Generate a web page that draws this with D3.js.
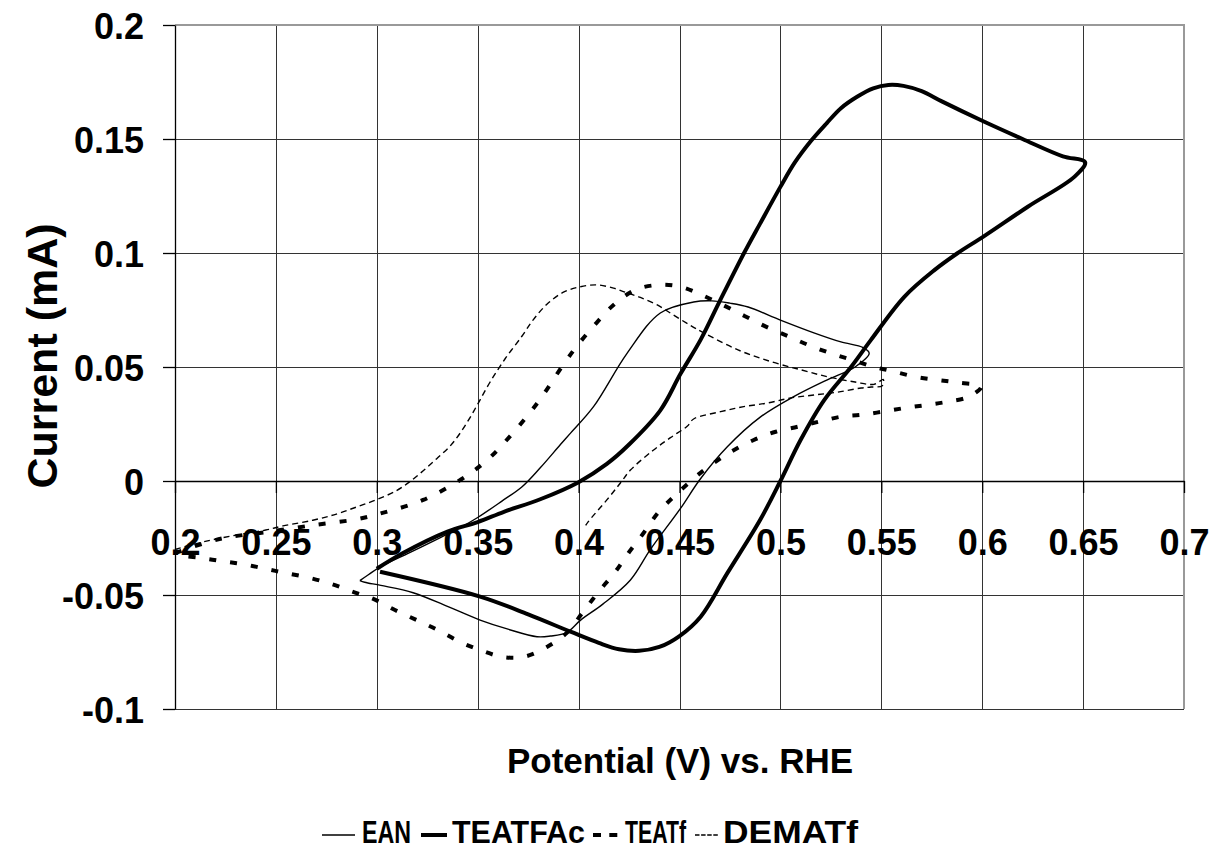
<!DOCTYPE html>
<html>
<head>
<meta charset="utf-8">
<script src="https://cdn.jsdelivr.net/npm/d3@7"></script>
<style>
  body { margin: 0; background: #fff; }
  svg text { font-family: 'Liberation Sans', Arial, sans-serif; font-weight: bold; fill: #000; }
</style>
</head>
<body>
<div class="chart"></div>
<script>
var seriesNames = ['EAN', 'TEATFAc', 'TEATf', 'DEMATf']
var xTicks = [0.2, 0.25, 0.3, 0.35, 0.4, 0.45, 0.5, 0.55, 0.6, 0.65, 0.7]
var yTicks = [-0.1, -0.05, 0, 0.05, 0.1, 0.15, 0.2]

// [potential V, current mA], in scan order
var ean = [
  [0.2916, -0.0437], [0.296, -0.041], [0.302, -0.0375], [0.315, -0.032], [0.330, -0.0255],
  [0.341, -0.0206], [0.350, -0.016], [0.362, -0.0088], [0.372, -0.0025], [0.381, 0.0058],
  [0.391, 0.016], [0.396, 0.021], [0.4074, 0.0326], [0.424, 0.056], [0.4405, 0.0737],
  [0.457, 0.0785], [0.466, 0.079], [0.475, 0.078], [0.484, 0.0763], [0.500, 0.0706],
  [0.5166, 0.065], [0.530, 0.061], [0.541, 0.0585], [0.544, 0.056], [0.537, 0.050],
  [0.5235, 0.0445], [0.5066, 0.037], [0.490, 0.028], [0.4737, 0.015], [0.4604, 0.001],
  [0.4505, -0.012], [0.4356, -0.030], [0.4257, -0.0434], [0.412, -0.054], [0.401, -0.061],
  [0.394, -0.0665], [0.386, -0.068], [0.3794, -0.0683], [0.365, -0.065], [0.3512, -0.061],
  [0.335, -0.055], [0.318, -0.049], [0.302, -0.0458], [0.294, -0.0444], [0.2916, -0.0437]
]

var teatfac = [
  [0.300, -0.0385], [0.313, -0.0316], [0.335, -0.0222], [0.350, -0.018], [0.363, -0.0135],
  [0.381, -0.008], [0.400, -0.0005], [0.414, 0.0075], [0.425, 0.016], [0.4405, 0.031],
  [0.4505, 0.047], [0.4605, 0.062], [0.470, 0.079], [0.482, 0.100], [0.490, 0.113],
  [0.500, 0.129], [0.507, 0.1395], [0.515, 0.149], [0.523, 0.157], [0.530, 0.1635],
  [0.538, 0.1685], [0.546, 0.1722], [0.5535, 0.1737], [0.561, 0.1733], [0.570, 0.171],
  [0.580, 0.1665], [0.600, 0.158], [0.620, 0.150], [0.640, 0.1424], [0.651, 0.1398],
  [0.6458, 0.1335], [0.6226, 0.1203], [0.6006, 0.1072], [0.5879, 0.100],
  [0.5763, 0.0925], [0.5614, 0.0808], [0.5448, 0.0618], [0.535, 0.050], [0.5217, 0.0355],
  [0.510, 0.018], [0.500, 0.000], [0.490, -0.017], [0.4737, -0.0404], [0.4605, -0.0595],
  [0.450, -0.068], [0.440, -0.0728], [0.430, -0.0745], [0.420, -0.0738], [0.410, -0.071],
  [0.396, -0.0661], [0.375, -0.0585], [0.3512, -0.0507], [0.3016, -0.0398]
]

var teatf = [
  [0.200, -0.0316], [0.217, -0.0266], [0.227, -0.0246], [0.247, -0.0222], [0.269, -0.0193],
  [0.2906, -0.0167], [0.3016, -0.0143], [0.323, -0.0083], [0.3437, 0.0018], [0.3547, 0.0092],
  [0.3636, 0.0172], [0.3794, 0.034], [0.3934, 0.0523], [0.4008, 0.061], [0.409, 0.0695],
  [0.4173, 0.0772], [0.428, 0.0838], [0.4396, 0.086], [0.4505, 0.0852], [0.461, 0.0816],
  [0.472, 0.077], [0.4822, 0.0724], [0.4928, 0.0677], [0.5035, 0.0636], [0.514, 0.0596],
  [0.525, 0.056], [0.536, 0.053], [0.5464, 0.050], [0.5563, 0.048], [0.567, 0.0457],
  [0.578, 0.0443], [0.5886, 0.0431], [0.5995, 0.0414],
  [0.5935, 0.037], [0.583, 0.0348], [0.572, 0.0333], [0.5615, 0.032], [0.5507, 0.0304],
  [0.540, 0.029], [0.530, 0.0282], [0.519, 0.026], [0.5085, 0.0238], [0.4977, 0.0216],
  [0.4868, 0.018], [0.474, 0.012], [0.461, 0.004], [0.4488, -0.0055], [0.4396, -0.0137],
  [0.4322, -0.0228], [0.4247, -0.0316], [0.4182, -0.0398], [0.410, -0.0485], [0.4023, -0.0573],
  [0.394, -0.0667], [0.3843, -0.0728], [0.3735, -0.077], [0.3626, -0.0772], [0.352, -0.0744],
  [0.3413, -0.0706], [0.3303, -0.0654], [0.3198, -0.061], [0.309, -0.0566], [0.298, -0.0516],
  [0.2875, -0.0484], [0.2776, -0.0452], [0.2668, -0.0425], [0.2552, -0.0404], [0.2453, -0.0386],
  [0.2345, -0.0366], [0.2236, -0.0352], [0.213, -0.0338], [0.202, -0.0325], [0.200, -0.0318]
]

var dematf = [
  [0.200, -0.030], [0.215, -0.0265], [0.230, -0.0238], [0.245, -0.0215], [0.2535, -0.0197],
  [0.2683, -0.0172], [0.280, -0.0145], [0.290, -0.0114], [0.2999, -0.0082], [0.3098, -0.0042],
  [0.3164, -0.0003], [0.323, 0.0045], [0.3297, 0.0098], [0.3363, 0.0153], [0.3413, 0.021],
  [0.3462, 0.0278], [0.3505, 0.0345], [0.356, 0.0432], [0.3635, 0.0535], [0.3719, 0.0635],
  [0.3775, 0.0707], [0.3843, 0.0775], [0.3925, 0.0828], [0.4009, 0.0852], [0.4091, 0.086],
  [0.4173, 0.0846], [0.424, 0.0825], [0.4306, 0.0805], [0.439, 0.0772], [0.447, 0.0728],
  [0.4555, 0.0682], [0.462, 0.065], [0.479, 0.0575], [0.4955, 0.0523], [0.5104, 0.0487],
  [0.5235, 0.0457], [0.537, 0.0434], [0.5464, 0.0424], [0.551, 0.0445], [0.5505, 0.0418],
  [0.545, 0.0412], [0.540, 0.0408], [0.5285, 0.039], [0.5166, 0.0377], [0.505, 0.0364],
  [0.4937, 0.0342], [0.4818, 0.0326], [0.4704, 0.0304], [0.457, 0.0272], [0.4538, 0.024],
  [0.4455, 0.019], [0.437, 0.0135], [0.4257, 0.0048], [0.4207, -0.0009], [0.414, -0.0083],
  [0.4048, -0.0178], [0.4035, -0.0195]
]

var margin = { top: 25, right: 28, bottom: 141, left: 175 }
var width = 1212 - margin.left - margin.right
var height = 850 - margin.top - margin.bottom

var x = d3.scaleLinear().domain([0.2, 0.7]).range([0, width])
var y = d3.scaleLinear().domain([-0.1, 0.2]).range([height, 0])

var svg = d3.select('.chart')
  .append('svg')
    .attr('width', 1212)
    .attr('height', 850)

var g = svg.append('g')
  .attr('transform', `translate(${margin.left},${margin.top})`)

// gridlines
g.append('g')
  .selectAll('line')
  .data(yTicks.slice(0, -1))
  .enter()
    .append('line')
    .attr('x1', 0)
    .attr('x2', width)
    .attr('y1', d => Math.round(y(d)) + 0.5)
    .attr('y2', d => Math.round(y(d)) + 0.5)
    .style('stroke', '#333')
    .style('stroke-width', 1)

g.append('g')
  .selectAll('line')
  .data(xTicks.slice(1, -1))
  .enter()
    .append('line')
    .attr('x1', d => Math.round(x(d)) + 0.5)
    .attr('x2', d => Math.round(x(d)) + 0.5)
    .attr('y1', 0)
    .attr('y2', height)
    .style('stroke', '#333')
    .style('stroke-width', 1)

// plot area border, top and right
g.append('path')
  .attr('d', `M0,${y(0.2)}H${x(0.7)}V${y(-0.1)}`)
  .style('fill', 'none')
  .style('stroke', '#999')
  .style('stroke-width', 2)

var yAxis = g.append('g')
  .call(d3.axisLeft(y)
    .tickValues(yTicks)
    .tickSize(12)
    .tickSizeOuter(0)
    .tickPadding(19)
    .tickFormat(d => String(d)))

var xAxis = g.append('g')
  .attr('transform', `translate(0,${y(0)})`)
  .call(d3.axisBottom(x)
    .tickValues(xTicks)
    .tickSize(12)
    .tickSizeOuter(0)
    .tickPadding(36)
    .tickFormat(d => String(d)))

g.selectAll('.domain, .tick line')
  .style('stroke', '#000')
  .style('stroke-width', 1.3)

g.selectAll('.tick text')
  .attr('font-family', null)
  .style('font-size', '36px')
yAxis.selectAll('.tick text').attr('dy', '0.38em')

var line = d3.line()
  .x(d => x(d[0]))
  .y(d => y(d[1]))
  .curve(d3.curveCatmullRom.alpha(0.5))

var styles = [
  { data: ean, width: 1.4, dash: null, legendDash: null },
  { data: teatfac, width: 4, dash: null, legendDash: null },
  { data: teatf, width: 4, dash: '7,14', legendDash: '8,8.3' },
  { data: dematf, width: 1.4, dash: '6,4', legendDash: '4.5,1.6' }
]

g.append('g')
  .selectAll('path')
  .data(styles)
  .enter()
    .append('path')
    .attr('d', d => line(d.data))
    .style('fill', 'none')
    .style('stroke', '#000')
    .style('stroke-width', d => d.width)
    .style('stroke-dasharray', d => d.dash)
    .style('stroke-linejoin', 'round')

// axis titles
svg.append('text')
  .attr('x', 680)
  .attr('y', 773)
  .attr('text-anchor', 'middle')
  .style('font-size', '35px')
  .text('Potential (V) vs. RHE')

svg.append('text')
  .attr('transform', 'translate(57,356) rotate(-90)')
  .attr('text-anchor', 'middle')
  .style('font-size', '43px')
  .text('Current (mA)')

// legend
var legendPos = [
  { x1: 322, x2: 355, tx: 362, tw: 49 },
  { x1: 421, x2: 447, tx: 452, tw: 133 },
  { x1: 593, x2: 623, tx: 625, tw: 61 },
  { x1: 695, x2: 718, tx: 723, tw: 135 }
]

var legend = svg.append('g')
  .selectAll('g')
  .data(seriesNames)
  .enter()
    .append('g')

legend.append('line')
  .attr('x1', (d, i) => legendPos[i].x1)
  .attr('x2', (d, i) => legendPos[i].x2)
  .attr('y1', 835)
  .attr('y2', 835)
  .style('stroke', '#000')
  .style('stroke-width', (d, i) => styles[i].width)
  .style('stroke-dasharray', (d, i) => styles[i].legendDash)

legend.append('text')
  .attr('x', (d, i) => legendPos[i].tx)
  .attr('y', 843)
  .attr('textLength', (d, i) => legendPos[i].tw)
  .attr('lengthAdjust', 'spacingAndGlyphs')
  .style('font-size', '31px')
  .text(d => d)
</script>
</body>
</html>
